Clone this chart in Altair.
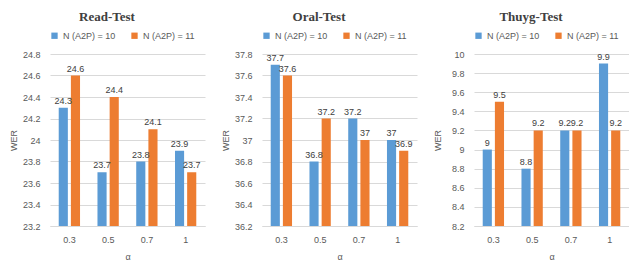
import altair as alt
import pandas as pd

alphas = ["0.3", "0.5", "0.7", "1"]
series = ["N (A2P) = 10", "N (A2P) = 11"]

read_n10 = [24.3, 23.7, 23.8, 23.9]
read_n11 = [24.6, 24.4, 24.1, 23.7]
oral_n10 = [37.7, 36.8, 37.2, 37.0]
oral_n11 = [37.6, 37.2, 37.0, 36.9]
thuyg_n10 = [9.0, 8.8, 9.2, 9.9]
thuyg_n11 = [9.5, 9.2, 9.2, 9.2]

read_ticks = [23.2, 23.4, 23.6, 23.8, 24.0, 24.2, 24.4, 24.6, 24.8]
oral_ticks = [36.2, 36.4, 36.6, 36.8, 37.0, 37.2, 37.4, 37.6, 37.8]
thuyg_ticks = [8.2, 8.4, 8.6, 8.8, 9.0, 9.2, 9.4, 9.6, 9.8, 10.0]

colors = ["#5B9BD5", "#ED7D31"]
SANS = "Liberation Sans"


def panel(title, n10, n11, ticks):
    df = pd.DataFrame({
        "alpha": alphas * 2,
        "series": [series[0]] * 4 + [series[1]] * 4,
        "wer": n10 + n11,
    })
    base = alt.Chart(df).encode(
        x=alt.X("alpha:N", sort=alphas, title="α",
                scale=alt.Scale(paddingInner=0.45, paddingOuter=0.225),
                axis=alt.Axis(labelAngle=0, ticks=False, labelPadding=9,
                              domainColor="#D9D9D9", titlePadding=8)),
        xOffset=alt.XOffset("series:N", sort=series,
                            scale=alt.Scale(paddingInner=0.25)),
        y=alt.Y("wer:Q", title="WER",
                scale=alt.Scale(domain=[ticks[0], ticks[-1]], nice=False, zero=False),
                axis=alt.Axis(values=ticks, format=".1~f", ticks=False, domain=False,
                              labelPadding=10, minExtent=28, maxExtent=28,
                              titlePadding=4)),
    )
    bars = base.mark_bar().encode(
        y2=alt.datum(ticks[0]),
        color=alt.Color("series:N", sort=series,
                        scale=alt.Scale(domain=series, range=colors),
                        legend=alt.Legend(orient="none", legendX=0, legendY=-23,
                                          direction="horizontal", title=None,
                                          symbolType="square", symbolSize=40,
                                          labelFontSize=9, labelColor="#595959",
                                          labelFont=SANS, columnPadding=14,
                                          symbolStrokeWidth=0)),
    )
    labels = base.mark_text(dy=-7, fontSize=9, color="#404040", font=SANS).encode(
        text=alt.Text("wer:Q")
    )
    return alt.layer(bars, labels).properties(
        width=155, height=172,
        title=alt.Title(title, frame="bounds", anchor="middle", offset=7,
                        font="Liberation Serif", fontSize=13, fontWeight="bold",
                        color="#404040"),
    )


chart = alt.hconcat(
    panel("Read-Test", read_n10, read_n11, read_ticks),
    panel("Oral-Test", oral_n10, oral_n11, oral_ticks),
    panel("Thuyg-Test", thuyg_n10, thuyg_n11, thuyg_ticks),
    spacing=16,
).resolve_scale(y="independent").resolve_legend(color="independent").properties(
    padding={"left": 1, "top": 3, "right": 0, "bottom": 0}
).configure_view(stroke=None).configure_axis(
    gridColor="#D9D9D9", labelColor="#595959", labelFontSize=9, labelFont=SANS,
    titleFont=SANS, titleFontSize=9, titleColor="#595959", titleFontWeight="normal",
)

chart.save("out.html", embed_options={"renderer": "svg", "actions": False})
